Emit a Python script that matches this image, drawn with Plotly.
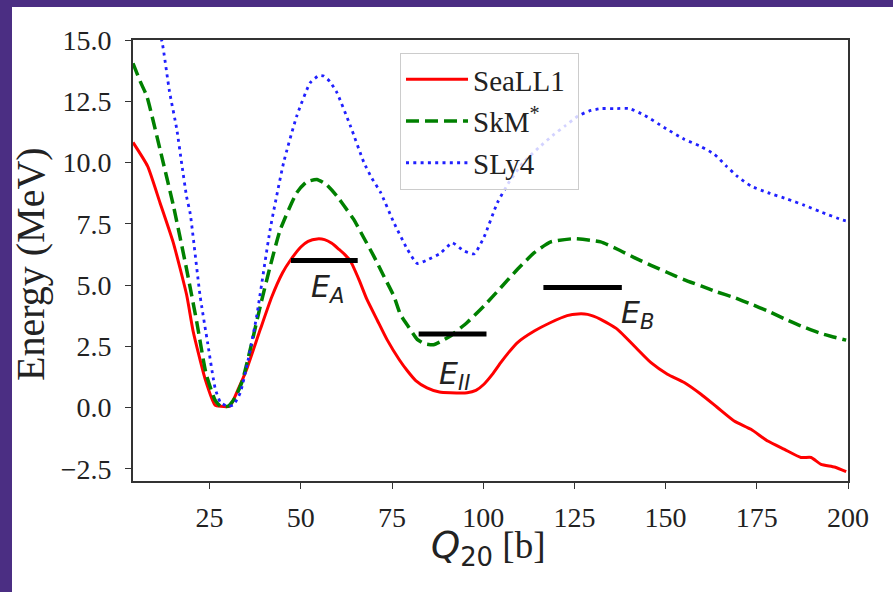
import plotly.graph_objects as go

# ---------------- data ----------------
q_seall1 = [4, 8, 11.4, 15, 18.7, 20.5, 23.8, 26.5, 28, 30.5, 33, 35, 38.9, 42, 45, 47.1, 50, 52, 54.5,
            56.5, 58.5, 60.5, 62.2, 63.6, 66, 68.1, 71, 73.6, 77, 79.2, 81.5, 84.6, 88, 91, 95.6, 98, 100.2,
            102.5, 104.8, 107, 109.4, 114, 118.5, 123, 126, 128.6, 132.2, 136.8, 141.4, 146, 150.5,
            155.1, 159.7, 164.2, 168.8, 173.4, 178, 182.6, 187.1, 189.9, 192.6, 196.3, 199.5]
e_seall1 = [10.82, 9.85, 8.36, 6.75, 4.6, 3.1, 1.15, 0.1, 0.05, 0.05, 0.8, 1.5, 3.19, 4.5, 5.5, 6.0, 6.55, 6.78, 6.88,
            6.85, 6.7, 6.45, 6.22, 5.98, 5.2, 4.42, 3.55, 2.78, 1.95, 1.5, 1.1, 0.8, 0.63, 0.6, 0.6, 0.7, 0.95,
            1.35, 1.83, 2.25, 2.65, 3.12, 3.47, 3.75, 3.82, 3.8, 3.6, 3.19, 2.51, 1.83, 1.36,
            1.02, 0.54, 0.0, -0.55, -0.89, -1.37, -1.71, -2.04, -2.04, -2.32, -2.43, -2.62]

q_skm = [4, 6, 7.8, 11.4, 15.1, 18.7, 21.5, 24, 26.5, 28, 30, 32, 34, 36.5, 38.9, 41.5, 44.4, 48.9, 51.5,
         54.4, 57, 59.9, 62, 64.5, 67, 70, 72.8, 75.5, 77.3, 79.5, 81.9, 84, 86.4, 88.5, 91, 95.6, 100.2,
         104.8, 109.4, 114, 118.5, 124.9, 132.2, 136.8, 141.4, 146, 150.5, 155, 159.7, 164, 168.8, 173.4,
         178, 182.6, 187.1, 192, 196, 199.5]
e_skm = [14.05, 13.3, 12.7, 10.54, 8.22, 5.64, 3.47, 1.4, 0.3, 0.05, 0.05, 0.4, 1.1, 2.6, 4.14, 5.7, 7.27, 8.77, 9.2,
         9.31, 9.1, 8.63, 8.2, 7.68, 7.0, 6.18, 5.35, 4.55, 3.8, 3.3, 2.78, 2.6, 2.56, 2.7, 2.92, 3.47, 4.14,
         4.89, 5.64, 6.32, 6.76, 6.89, 6.76, 6.46, 6.12, 5.8, 5.51, 5.22, 4.96, 4.72, 4.49, 4.22,
         3.94, 3.62, 3.33, 3.05, 2.88, 2.75]

q_sly4 = [4, 8, 10, 12, 14, 16, 17.4, 18.7, 19.7, 22.4, 24.5, 26.5, 28, 30, 31.5, 33.4, 35.5, 37.9, 41.6,
          45.3, 48.9, 52.6, 55, 56.3, 58, 59.9, 63.6, 67.3, 69.5, 71.9, 75.5, 79.2, 81.9, 84.6, 88.3, 91.5,
          94.7, 97.5, 100.2, 103.9, 107.1, 111, 115.2, 119, 122.5, 126, 129, 132.2, 136, 140, 144.2, 149.7,
          155.1, 159.7, 163.4, 166.6, 169.8, 173.4, 178, 183.5, 188.1, 192.6, 198.6, 200]
e_sly4 = [20.0, 17.5, 16.0, 14.9, 12.9, 11.36, 9.9, 8.6, 7.9, 4.55, 2.6, 0.8, 0.2, 0.05, 0.1, 0.6, 1.9, 3.73, 7.27,
          10.0, 11.9, 13.26, 13.55, 13.53, 13.3, 12.85, 11.49, 10.0, 9.35, 8.77, 7.55, 6.46, 5.88, 6.02, 6.3, 6.72,
          6.39, 6.27, 6.95, 8.36, 9.2, 10.0, 10.6, 11.1, 11.5, 11.9, 12.1, 12.2, 12.2, 12.2, 11.93, 11.42,
          10.95, 10.65, 10.33, 9.86, 9.42, 9.04, 8.77, 8.5, 8.25, 7.98, 7.65, 7.6]

barrier_names = ["<i>E</i><sub><i>A</i></sub>", "<i>E</i><sub><i>II</i></sub>", "<i>E</i><sub><i>B</i></sub>"]
barrier_energy = [6.0, 3.0, 4.9]
barrier_q_start = [47.3, 82.3, 116.5]
barrier_q_end = [65.6, 100.9, 138.0]
label_q = [57.3, 92.1, 142.3]
label_e = [4.85, 1.3, 3.8]

x_ticks = [25, 50, 75, 100, 125, 150, 175, 200]
y_ticks = [-2.5, 0.0, 2.5, 5.0, 7.5, 10.0, 12.5, 15.0]
y_tick_text = ["\u22122.5", "0.0", "2.5", "5.0", "7.5", "10.0", "12.5", "15.0"]

# ---------------- figure ----------------
W, H = 893, 592
L, R, T, B = 133, 45, 40, 111
PW, PH = W - L - R, H - T - B

def px_x(p):
    return (p - L) / PW

def px_y(p):
    return (H - B - p) / PH

SERIF = "Liberation Serif"
PAD = "\u00a0"
fig = go.Figure()

fig.add_trace(go.Scatter(x=q_seall1, y=e_seall1, mode="lines", name="SeaLL1" + PAD,
                         line=dict(color="#ff0000", width=3, shape="spline", smoothing=0.5),
                         legendgroup="a"))
fig.add_trace(go.Scatter(x=q_skm, y=e_skm, mode="lines", name="SkM<sup>*</sup>",
                         line=dict(color="#008000", width=3.5, dash="13px,6px", shape="spline", smoothing=0.5),
                         legendgroup="b"))
fig.add_trace(go.Scatter(x=q_sly4, y=e_sly4, mode="lines", name="SLy4",
                         line=dict(color="#2020ff", width=2.8, dash="3px,4.3px", shape="spline", smoothing=0.5),
                         legendgroup="c"))

for i in range(len(barrier_energy)):
    fig.add_trace(go.Scatter(x=[barrier_q_start[i], barrier_q_end[i]],
                             y=[barrier_energy[i], barrier_energy[i]],
                             mode="lines", line=dict(color="black", width=5),
                             showlegend=False, hoverinfo="skip"))
    fig.add_annotation(x=label_q[i], y=label_e[i], xref="x", yref="y", text=barrier_names[i],
                       showarrow=False, font=dict(family="DejaVu Sans", size=30, color="#222"),
                       xanchor="center", yanchor="middle")

axis_common = dict(showline=True, mirror=True, linecolor="#333", linewidth=1.6,
                   ticks="outside", ticklen=6, tickwidth=1.3, tickcolor="#333",
                   showgrid=False, zeroline=False,
                   tickfont=dict(family=SERIF, size=28, color="#222"))

fig.update_xaxes(range=[4, 200], tickvals=x_ticks, ticklabelstandoff=5, **axis_common)
fig.update_yaxes(range=[-3, 15], tickvals=y_ticks, ticktext=y_tick_text, ticklabelstandoff=8, **axis_common)

# axis titles
fig.add_annotation(x=px_x(30), y=px_y(264), xref="paper", yref="paper", text="Energy (MeV)",
                   textangle=-90, showarrow=False, xanchor="center", yanchor="middle",
                   font=dict(family=SERIF, size=40, color="#222"))
fig.add_annotation(x=px_x(488), y=px_y(548), xref="paper", yref="paper",
                   text="<span style='font-family:DejaVu Sans'><i>Q</i><sub>20</sub></span> [b]",
                   showarrow=False, xanchor="center", yanchor="middle",
                   font=dict(family=SERIF, size=37, color="#222"))

# purple frame
PURPLE = "#4b2e83"
fig.add_shape(type="rect", xref="paper", yref="paper", x0=px_x(0), x1=px_x(W), y0=px_y(7), y1=px_y(0),
              fillcolor=PURPLE, line=dict(width=0), layer="above")
fig.add_shape(type="rect", xref="paper", yref="paper", x0=px_x(0), x1=px_x(12), y0=px_y(H), y1=px_y(0),
              fillcolor=PURPLE, line=dict(width=0), layer="above")

fig.update_layout(
    width=W, height=H, autosize=False,
    margin=dict(l=L, r=R, t=T, b=B, pad=0),
    paper_bgcolor="white", plot_bgcolor="white",
    showlegend=True,
    legend=dict(x=px_x(400), y=px_y(53), xanchor="left", yanchor="top",
                bgcolor="rgba(255,255,255,0.8)", bordercolor="#cccccc", borderwidth=1,
                font=dict(family=SERIF, size=29, color="#222"),
                traceorder="grouped", tracegroupgap=1, itemwidth=62),
)

fig.write_html("out.html")
